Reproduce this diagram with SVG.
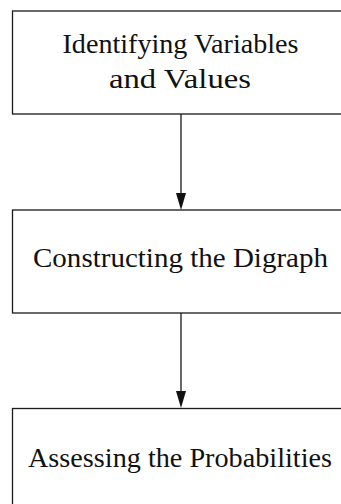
<svg xmlns="http://www.w3.org/2000/svg" width="341" height="504" viewBox="0 0 341 504">
<defs>
<style>
.box{fill:#fff;stroke:#1a1a1a;stroke-width:1.3}
.t{font-family:"Liberation Serif","Times New Roman",serif;font-size:26.5px;fill:#111;text-anchor:middle}
.edge{stroke:#1a1a1a;stroke-width:1.3;fill:none}
.head{fill:#111}
</style>
</defs>
<g id="n1">
<rect class="box" x="12.5" y="11" width="338" height="103"/>
<text class="t" x="180.5" y="53" textLength="236" lengthAdjust="spacingAndGlyphs">Identifying Variables</text>
<text class="t" x="180" y="87.5" textLength="142" lengthAdjust="spacingAndGlyphs">and Values</text>
</g>
<g id="n2">
<rect class="box" x="12.5" y="210" width="338" height="103"/>
<text class="t" x="180.5" y="267" textLength="295" lengthAdjust="spacingAndGlyphs">Constructing the Digraph</text>
</g>
<g id="n3">
<rect class="box" x="12.5" y="408.5" width="338" height="103"/>
<text class="t" x="180" y="466.5" textLength="304" lengthAdjust="spacingAndGlyphs">Assessing the Probabilities</text>
</g>
<g id="edges">
<path class="edge" d="M181,114 L181,193"/>
<path class="head" d="M176,193 L186,193 L181,210 Z"/>
<path class="edge" d="M181,313 L181,391"/>
<path class="head" d="M176,391 L186,391 L181,408 Z"/>
</g>
</svg>
